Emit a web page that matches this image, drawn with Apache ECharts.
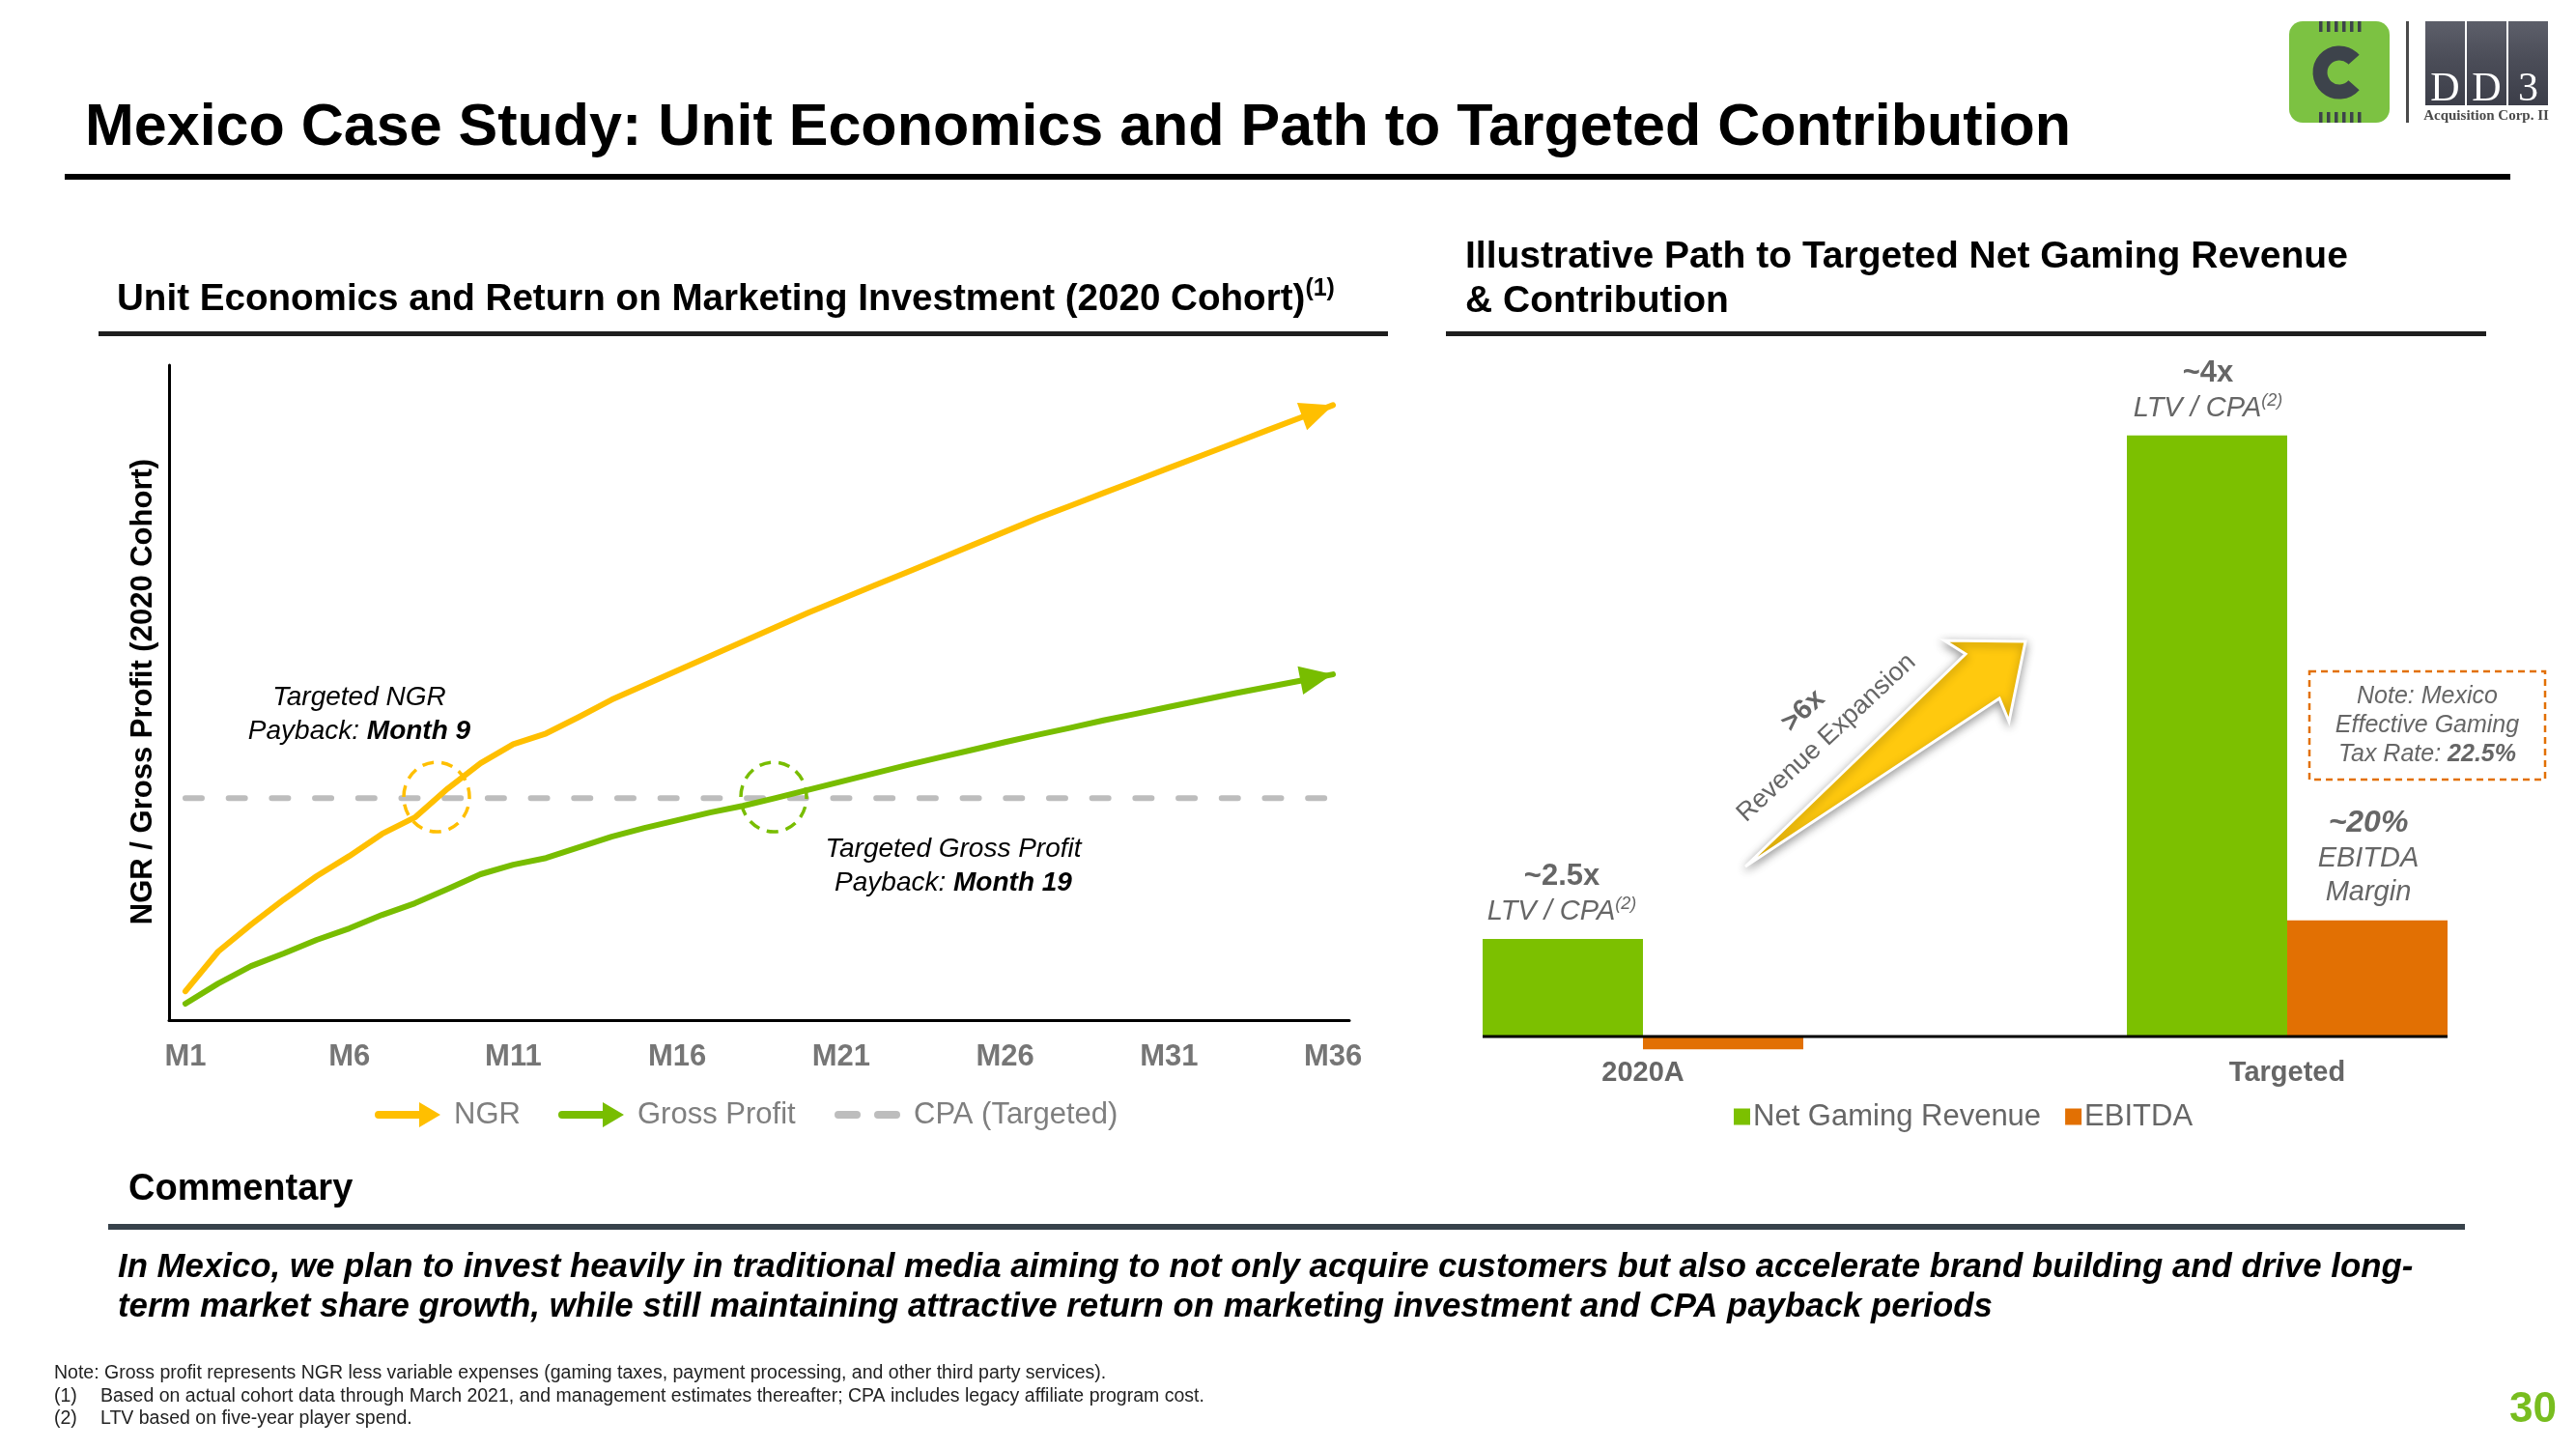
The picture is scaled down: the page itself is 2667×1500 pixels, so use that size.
<!DOCTYPE html>
<html>
<head>
<meta charset="utf-8">
<script src="https://cdn.jsdelivr.net/npm/echarts@6/dist/echarts.min.js"></script>
<style>
html,body{margin:0;padding:0;background:#fff;}
#c{width:2667px;height:1500px;}
</style>
</head>
<body>
<div id="c"></div>
<script>
// ---------- DATA ----------
const months = ['M1','M2','M3','M4','M5','M6','M7','M8','M9','M10','M11','M12','M13','M14','M15','M16','M17','M18',
  'M19','M20','M21','M22','M23','M24','M25','M26','M27','M28','M29','M30','M31','M32','M33','M34','M35','M36'];
const xTickLabels = ['M1','M6','M11','M16','M21','M26','M31','M36'];
// cumulative value per cohort, indexed so that targeted CPA = 100
const ngrValues = [13.0, 30.9, 43.0, 54.3, 64.8, 73.9, 83.9, 91.3, 104.3, 115.7, 124.3, 129.1, 136.5, 144.3, 150.9,
  157.4, 163.9, 170.4, 177.0, 183.5, 189.6, 195.7, 201.7, 207.8, 213.9, 220.0, 226.1, 231.7, 237.4, 243.0,
  248.7, 254.3, 260.0, 265.7, 271.3, 277.0];
const grossProfitValues = [7.4, 16.5, 24.3, 30.0, 36.1, 41.3, 47.4, 52.6, 59.1, 65.7, 70.0, 73.0, 77.8, 82.6, 86.5,
  90.0, 93.5, 96.5, 100.0, 103.7, 107.4, 111.1, 114.8, 118.3, 121.7, 125.2, 128.5, 131.7, 135.0, 138.0,
  141.1, 144.1, 147.2, 150.0, 152.8, 155.7];
const cpaTargetedValues = [100,100,100,100,100,100,100,100,100,100,100,100,100,100,100,100,100,100,
  100,100,100,100,100,100,100,100,100,100,100,100,100,100,100,100,100,100];

const barCategories = ['2020A', 'Targeted'];
// indexed to 2020A Net Gaming Revenue = 1
const netGamingRevenueIndex = [1.0, 6.16];
const ebitdaIndex = [-0.13, 1.19];

// ---------- STYLE ----------
const FONT = 'Liberation Sans, Arial, Helvetica, sans-serif';
const SERIF = 'Liberation Serif, Times New Roman, serif';
const YELLOW = '#ffbf00';
const GREEN = '#78bd00';
const BAR_GREEN = '#7cc000';
const ORANGE = '#e27003';
const DASH_GRAY = '#bdbdbd';
const TXT_GRAY = '#666666';

function withArrow(values, rot, off) {
  const last = values.length - 1;
  return values.map((v, i) => i === last ? {
    value: v, symbol: 'triangle', symbolSize: [30, 34], symbolRotate: rot, symbolOffset: off
  } : v);
}

const arrowIcon = 'path://M4,9 L46,9 L46,0 L68,13 L46,26 L46,17 L4,17 A4,4 0 0 1 4,9 Z';
const dashIcon = 'path://M4,0 L23,0 A4,4 0 0 1 23,8 L4,8 A4,4 0 0 1 4,0 Z M45,0 L64,0 A4,4 0 0 1 64,8 L45,8 A4,4 0 0 1 45,0 Z';

const legendText = {fontFamily: FONT, fontSize: 31, color: '#7f7f7f', lineHeight: 36, padding: [0, 0, 0, 9]};

const chart = echarts.init(document.getElementById('c'), null, {renderer: 'canvas'});

const option = {
  animation: false,
  backgroundColor: '#ffffff',
  grid: [
    {left: 175, top: 378, width: 1222, height: 678, outerBoundsMode: 'none', containLabel: false},
    {left: 1367.5, top: 366, width: 1334, height: 727.2, outerBoundsMode: 'none', containLabel: false}
  ],
  xAxis: [
    {
      gridIndex: 0, type: 'category', data: months, boundaryGap: true,
      axisLine: {show: true, lineStyle: {color: '#000', width: 3}},
      axisTick: {show: false},
      axisLabel: {
        interval: (idx, val) => xTickLabels.indexOf(val) >= 0,
        fontFamily: FONT, fontSize: 31, fontWeight: 'bold', color: '#767676', margin: 23
      },
      splitLine: {show: false}
    },
    {
      gridIndex: 1, type: 'category', data: barCategories, boundaryGap: true,
      axisLine: {show: false},
      axisTick: {show: false},
      axisLabel: {fontFamily: FONT, fontSize: 29, fontWeight: 'bold', color: TXT_GRAY, margin: 3},
      splitLine: {show: false}
    }
  ],
  yAxis: [
    {
      gridIndex: 0, type: 'value', min: 0, max: 295,
      axisLine: {show: true, lineStyle: {color: '#000', width: 3}},
      axisTick: {show: false}, axisLabel: {show: false}, splitLine: {show: false}
    },
    {
      gridIndex: 1, type: 'value', min: -0.2, max: 7,
      axisLine: {show: false}, axisTick: {show: false}, axisLabel: {show: false}, splitLine: {show: false}
    }
  ],
  legend: [
    {data: [{name: 'NGR', icon: arrowIcon}], left: 388, top: 1136, itemWidth: 68, itemHeight: 26,
      padding: 0, selectedMode: false, itemStyle: {borderWidth: 0}, textStyle: legendText},
    {data: [{name: 'Gross Profit', icon: arrowIcon}], left: 578, top: 1136, itemWidth: 68, itemHeight: 26,
      padding: 0, selectedMode: false, itemStyle: {borderWidth: 0}, textStyle: legendText},
    {data: [{name: 'CPA (Targeted)', icon: dashIcon}], left: 864, top: 1136, itemWidth: 68, itemHeight: 8,
      padding: 0, selectedMode: false, itemStyle: {borderWidth: 0}, textStyle: legendText},
    {data: ['Net Gaming Revenue', 'EBITDA'], icon: 'rect', left: 1795, top: 1138, itemWidth: 17, itemHeight: 17,
      itemGap: 25, padding: 0, selectedMode: false, itemStyle: {borderWidth: 0},
      textStyle: {fontFamily: FONT, fontSize: 31, color: TXT_GRAY, lineHeight: 36, padding: [0, 0, 0, -2]}}
  ],
  series: [
    {
      name: 'CPA (Targeted)', type: 'line', xAxisIndex: 0, yAxisIndex: 0, data: cpaTargetedValues,
      symbol: 'none', color: DASH_GRAY, itemStyle: {color: DASH_GRAY},
      lineStyle: {color: DASH_GRAY, width: 6, type: [17, 27.7], cap: 'round'},
      emphasis: {disabled: true}, z: 2
    },
    {
      name: 'NGR', type: 'line', xAxisIndex: 0, yAxisIndex: 0,
      data: withArrow(ngrValues, -70, [-16, 6]),
      symbol: 'none', color: YELLOW, itemStyle: {color: YELLOW, borderWidth: 0},
      lineStyle: {color: YELLOW, width: 6, cap: 'round', join: 'round'},
      emphasis: {disabled: true}, z: 4
    },
    {
      name: 'Gross Profit', type: 'line', xAxisIndex: 0, yAxisIndex: 0,
      data: withArrow(grossProfitValues, -79, [-17, 3]),
      symbol: 'none', color: GREEN, itemStyle: {color: GREEN, borderWidth: 0},
      lineStyle: {color: GREEN, width: 6, cap: 'round', join: 'round'},
      emphasis: {disabled: true}, z: 3
    },
    {
      name: 'Net Gaming Revenue', type: 'bar', xAxisIndex: 1, yAxisIndex: 1, data: netGamingRevenueIndex,
      barWidth: 166, barGap: '0%', color: BAR_GREEN, itemStyle: {color: BAR_GREEN},
      emphasis: {disabled: true}
    },
    {
      name: 'EBITDA', type: 'bar', xAxisIndex: 1, yAxisIndex: 1, data: ebitdaIndex,
      barWidth: 166, barGap: '0%', color: ORANGE, itemStyle: {color: ORANGE},
      emphasis: {disabled: true}
    }
  ]
};
chart.setOption(option);

// ---------- GRAPHICS (titles, notes, annotations) ----------
function txt(x, y, text, o) {
  o = o || {};
  return {
    type: 'text', x: x, y: y, rotation: o.rotation || 0, z: o.z || 10, silent: true,
    style: {
      text: text, fontFamily: o.fontFamily || FONT, fontSize: o.fontSize || 20,
      fontWeight: o.fontWeight || 'normal', fontStyle: o.fontStyle || 'normal',
      fill: o.fill || '#000', align: o.align || 'left', verticalAlign: o.verticalAlign || 'middle',
      rich: o.rich, lineHeight: o.lineHeight
    }
  };
}
function rect(x, y, w, h, fill, o) {
  o = o || {};
  return {type: 'rect', silent: true, z: o.z || 5, shape: {x: x, y: y, width: w, height: h, r: o.r || 0},
    style: Object.assign({fill: fill}, o.style || {})};
}

const g = [];
// Title
g.push(txt(88, 133, 'Mexico Case Study: Unit Economics and Path to Targeted Contribution',
  {fontSize: 61, fontWeight: 'bold'}));
g.push(rect(67, 180, 2532, 6, '#000'));

// Logo
g.push(rect(2370, 22, 104, 105, '#7cc242', {r: 14}));
for (let i = 0; i < 6; i++) {
  g.push(rect(2401 + i * 8, 22, 3.5, 11, '#3d434b', {z: 6}));
  g.push(rect(2401 + i * 8, 116, 3.5, 11, '#3d434b', {z: 6}));
}
g.push({type: 'arc', silent: true, z: 6, shape: {cx: 2422, cy: 75, r: 20, startAngle: 0.72, endAngle: 2 * Math.PI - 0.72, clockwise: true},
  style: {stroke: '#3d434b', lineWidth: 15, fill: null, lineCap: 'butt'}});
g.push(rect(2491, 22, 3, 105, '#4a4a4a'));
['D', 'D', '3'].forEach((ch, i) => {
  g.push({type: 'rect', silent: true, z: 5, shape: {x: 2511 + i * 43, y: 22, width: 41, height: 87},
    style: {fill: new echarts.graphic.LinearGradient(0, 0, 0, 1, [
      {offset: 0, color: '#5d5f6a'}, {offset: 0.45, color: '#4b4d58'}, {offset: 1, color: '#3c3e49'}])}});
  g.push(txt(2531.5 + i * 43, 93, ch, {fontFamily: SERIF, fontSize: 42, fill: '#ffffff', align: 'center', z: 7}));
});
g.push(txt(2574, 120, 'Acquisition Corp. II', {fontFamily: SERIF, fontSize: 15, fontWeight: 'bold', fill: '#4a4a4a', align: 'center'}));

// Section headers
g.push(txt(121, 310, 'Unit Economics and Return on Marketing Investment (2020 Cohort){sup|(1)}', {
  fontSize: 38.6, fontWeight: 'bold', lineHeight: 46,
  rich: {sup: {fontFamily: FONT, fontSize: 25, fontWeight: 'bold', verticalAlign: 'top', lineHeight: 28}}
}));
g.push(rect(102, 343, 1335, 5, '#1e1e1e'));
g.push(txt(1517, 266, 'Illustrative Path to Targeted Net Gaming Revenue', {fontSize: 39, fontWeight: 'bold'}));
g.push(txt(1517, 312, '& Contribution', {fontSize: 39, fontWeight: 'bold'}));
g.push(rect(1497, 343, 1077, 5, '#1e1e1e'));

// Left chart y title
g.push(txt(148, 716, 'NGR / Gross Profit (2020 Cohort)', {
  fontSize: 31, fontWeight: 'bold', align: 'center', rotation: Math.PI / 2}));

// Left annotations
g.push(txt(372, 722, 'Targeted NGR', {fontSize: 28, fontStyle: 'italic', align: 'center'}));
g.push(txt(372, 757, 'Payback: {b|Month 9}', {fontSize: 28, fontStyle: 'italic', align: 'center',
  rich: {b: {fontFamily: FONT, fontSize: 28, fontStyle: 'italic', fontWeight: 'bold'}}}));
g.push({type: 'ellipse', silent: true, z: 8, shape: {cx: 452, cy: 825, rx: 34, ry: 36},
  style: {fill: null, stroke: YELLOW, lineWidth: 3.5, lineDash: [12, 8]}});
g.push({type: 'ellipse', silent: true, z: 8, shape: {cx: 801, cy: 825, rx: 34, ry: 36},
  style: {fill: null, stroke: GREEN, lineWidth: 3.5, lineDash: [12, 8]}});
g.push(txt(987, 879, 'Targeted Gross Profit', {fontSize: 28, fontStyle: 'italic', align: 'center'}));
g.push(txt(987, 914, 'Payback: {b|Month 19}', {fontSize: 28, fontStyle: 'italic', align: 'center',
  rich: {b: {fontFamily: FONT, fontSize: 28, fontStyle: 'italic', fontWeight: 'bold'}}}));

// Right annotations
const supRich = {sup: {fontFamily: FONT, fontSize: 18, fontStyle: 'italic', fill: TXT_GRAY, verticalAlign: 'top', lineHeight: 22}};
g.push(txt(1617, 907, '~2.5x', {fontSize: 31, fontWeight: 'bold', fill: TXT_GRAY, align: 'center'}));
g.push(txt(1617, 944, 'LTV / CPA{sup|(2)}', {fontSize: 29, fontStyle: 'italic', fill: TXT_GRAY, align: 'center', lineHeight: 34, rich: supRich}));
g.push(txt(2286, 386, '~4x', {fontSize: 31, fontWeight: 'bold', fill: TXT_GRAY, align: 'center'}));
g.push(txt(2286, 423, 'LTV / CPA{sup|(2)}', {fontSize: 29, fontStyle: 'italic', fill: TXT_GRAY, align: 'center', lineHeight: 34, rich: supRich}));

g.push({type: 'rect', silent: true, z: 8, shape: {x: 2391, y: 695, width: 244, height: 112},
  style: {fill: null, stroke: ORANGE, lineWidth: 2.5, lineDash: [7, 5]}});
g.push(txt(2513, 721, 'Note: Mexico', {fontSize: 25, fontStyle: 'italic', fill: TXT_GRAY, align: 'center'}));
g.push(txt(2513, 751, 'Effective Gaming', {fontSize: 25, fontStyle: 'italic', fill: TXT_GRAY, align: 'center'}));
g.push(txt(2513, 781, 'Tax Rate: {b|22.5%}', {fontSize: 25, fontStyle: 'italic', fill: TXT_GRAY, align: 'center',
  rich: {b: {fontFamily: FONT, fontSize: 25, fontStyle: 'italic', fontWeight: 'bold', fill: TXT_GRAY}}}));
g.push(txt(2452, 852, '~20%', {fontSize: 32, fontStyle: 'italic', fontWeight: 'bold', fill: TXT_GRAY, align: 'center'}));
g.push(txt(2452, 889, 'EBITDA', {fontSize: 29, fontStyle: 'italic', fill: TXT_GRAY, align: 'center'}));
g.push(txt(2452, 924, 'Margin', {fontSize: 29, fontStyle: 'italic', fill: TXT_GRAY, align: 'center'}));

// Big expansion arrow
g.push({type: 'polygon', silent: true, z: 6,
  shape: {points: [[1807, 897], [2035, 677], [2013, 663], [2097, 664], [2080, 747], [2070, 723]]},
  style: {fill: '#ffc90e', stroke: '#ffffff', lineWidth: 3, lineJoin: 'miter',
    shadowBlur: 10, shadowColor: 'rgba(0,0,0,0.38)', shadowOffsetX: 0, shadowOffsetY: 3}});
const rot = 43 * Math.PI / 180;
g.push(txt(1867, 736, '>6x', {fontSize: 29, fontWeight: 'bold', fill: TXT_GRAY, align: 'center', rotation: rot}));
g.push(txt(1891, 764, 'Revenue Expansion', {fontSize: 27, fill: TXT_GRAY, align: 'center', rotation: rot}));

// Commentary
g.push(txt(133, 1232, 'Commentary', {fontSize: 38, fontWeight: 'bold'}));
g.push(rect(112, 1267, 2440, 6, '#38424b'));
g.push(txt(122, 1312, 'In Mexico, we plan to invest heavily in traditional media aiming to not only acquire customers but also accelerate brand building and drive long-',
  {fontSize: 34.8, fontWeight: 'bold', fontStyle: 'italic'}));
g.push(txt(122, 1353, 'term market share growth, while still maintaining attractive return on marketing investment and CPA payback periods',
  {fontSize: 34.8, fontWeight: 'bold', fontStyle: 'italic'}));

// Footnotes
g.push(txt(56, 1422, 'Note: Gross profit represents NGR less variable expenses (gaming taxes, payment processing, and other third party services).', {fontSize: 19.5, fill: '#222'}));
g.push(txt(56, 1446, '(1)', {fontSize: 19.5, fill: '#222'}));
g.push(txt(104, 1446, 'Based on actual cohort data through March 2021, and management estimates thereafter; CPA includes legacy affiliate program cost.', {fontSize: 19.5, fill: '#222'}));
g.push(txt(56, 1469, '(2)', {fontSize: 19.5, fill: '#222'}));
g.push(txt(104, 1469, 'LTV based on five-year player spend.', {fontSize: 19.5, fill: '#222'}));
g.push(txt(2647, 1460, '30', {fontSize: 44, fontWeight: 'bold', fill: '#78bd1f', align: 'right'}));

// Baseline of bar chart, from the bar scale
const p0 = chart.convertToPixel({seriesIndex: 3}, [barCategories[0], 0]);
const p1 = chart.convertToPixel({seriesIndex: 3}, [barCategories[1], 0]);
g.push({type: 'line', silent: true, z: 9, shape: {x1: p0[0] - 166, y1: p0[1], x2: p1[0] + 166, y2: p1[1]},
  style: {stroke: '#000', lineWidth: 3}});

chart.setOption({graphic: g});
</script>
</body>
</html>
